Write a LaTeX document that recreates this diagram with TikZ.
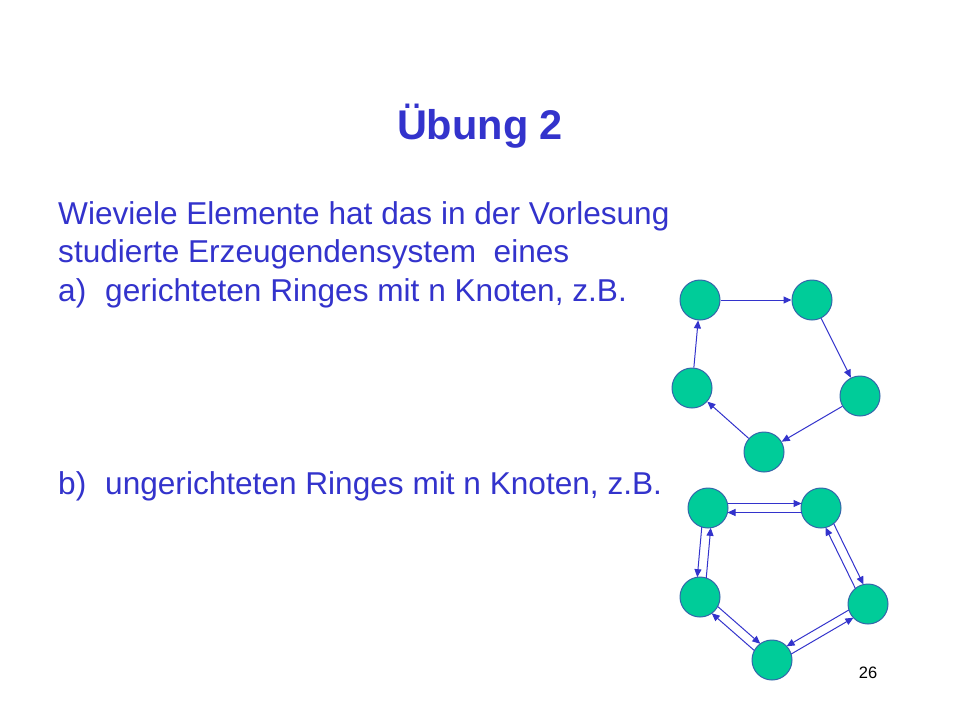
\documentclass[tikz,border=0pt]{standalone}
\usepackage{fontspec}
\setmainfont{Liberation Sans}
\usetikzlibrary{arrows.meta,calc}
\definecolor{txtblue}{RGB}{51,51,204}
\definecolor{nodegreen}{RGB}{0,204,153}
\definecolor{nodeborder}{RGB}{51,102,170}
\tikzset{
  ringnode/.style={circle,draw=nodeborder,fill=nodegreen,line width=1pt,minimum size=40pt,inner sep=0pt},
  arr/.style={draw=txtblue,line width=1pt,-{Triangle[length=8pt,width=7pt]}},
  body/.style={anchor=base west,inner sep=0pt,text=txtblue,font=\fontsize{31.6}{38}\selectfont},
}
\newcommand\ringL[2]{\draw[arr,shorten <=19.5pt,shorten >=19.5pt] ($(#1.center)!4.5pt!90:(#2.center)$) -- ($(#2.center)!4.5pt!-90:(#1.center)$);}
\newcommand\ringR[2]{\draw[arr,shorten <=19.5pt,shorten >=19.5pt] ($(#1.center)!4.5pt!-90:(#2.center)$) -- ($(#2.center)!4.5pt!90:(#1.center)$);}
\begin{document}
\begin{tikzpicture}[x=1pt,y=-1pt]
\useasboundingbox[fill=white] (0,0) rectangle (960,720);
\node[anchor=base,inner sep=0pt,text=txtblue,font=\fontsize{41.5}{48}\selectfont\bfseries] (title) at (480,139) {Übung 2};
\node[body] (l1) at (58,224) {Wieviele Elemente hat das in der Vorlesung};
\node[body] (l2) at (58,262) {studierte Erzeugendensystem\ \ eines};
\node[body] (l3a) at (58,301) {a)};
\node[body] (l3) at (105,301) {gerichteten Ringes mit n Knoten, z.B.};
\node[body] (l4a) at (58,494) {b)};
\node[body] (l4) at (105,494) {ungerichteten Ringes mit n Knoten, z.B.};
\node[anchor=base,inner sep=0pt,font=\fontsize{16.5}{20}\selectfont] (page) at (868,678) {26};
% directed ring
\node[ringnode] (a1) at (700,300) {};
\node[ringnode] (b1) at (812,300) {};
\node[ringnode] (c1) at (860,396) {};
\node[ringnode] (d1) at (764,452) {};
\node[ringnode] (e1) at (692,388) {};
\draw[arr] (a1) -- (b1);
\draw[arr] (b1) -- (c1);
\draw[arr] (c1) -- (d1);
\draw[arr] (d1) -- (e1);
\draw[arr] (e1) -- (a1);
% undirected ring
\node[ringnode] (a2) at (708,508) {};
\node[ringnode] (b2) at (821,508) {};
\node[ringnode] (c2) at (868,604) {};
\node[ringnode] (d2) at (772,660) {};
\node[ringnode] (e2) at (700,597) {};
\ringL{a2}{b2}
\ringL{b2}{a2}
\ringL{b2}{c2}
\ringL{c2}{b2}
\ringR{c2}{d2}
\ringR{d2}{c2}
\ringL{e2}{d2}
\ringL{d2}{e2}
\ringR{a2}{e2}
\ringR{e2}{a2}
\end{tikzpicture}
\end{document}
